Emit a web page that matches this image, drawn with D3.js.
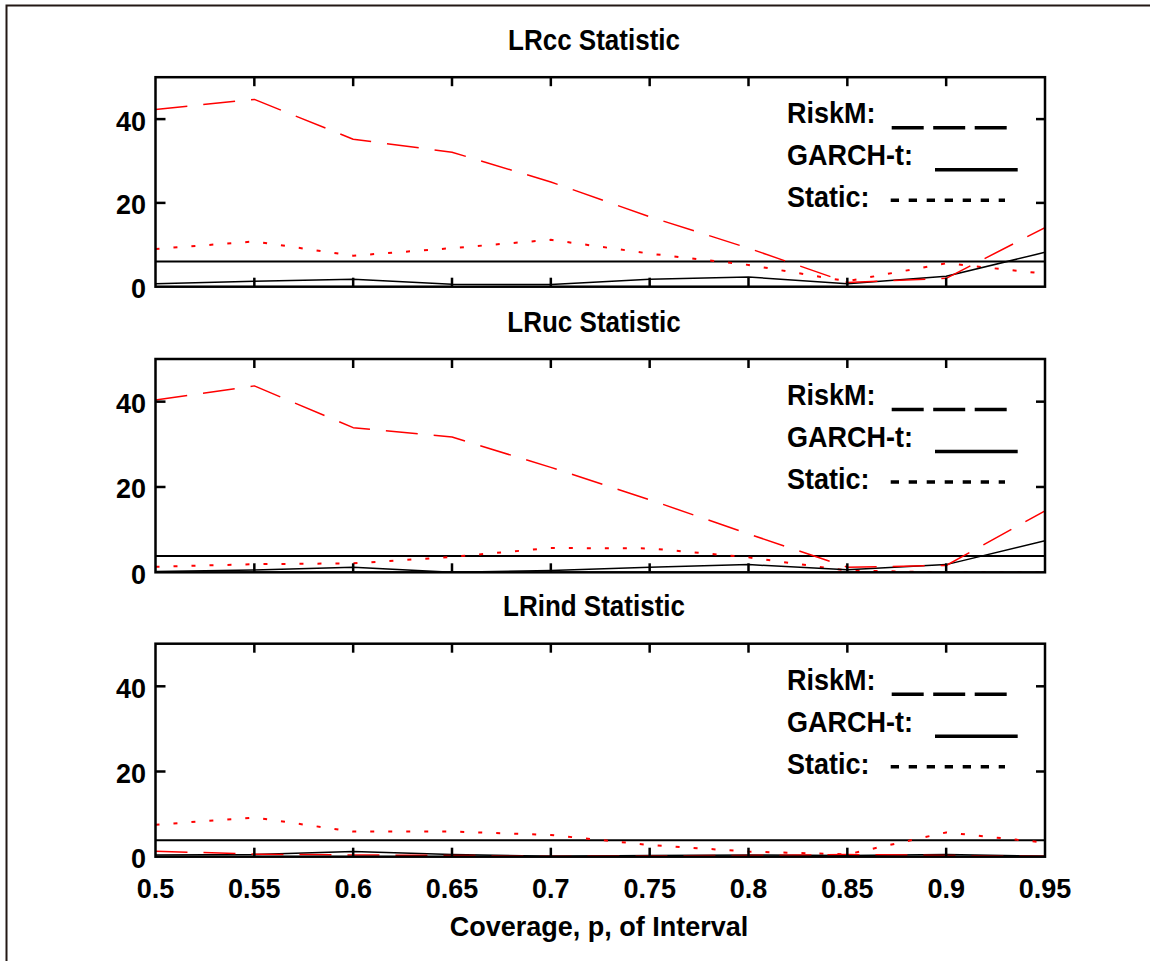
<!DOCTYPE html>
<html>
<head>
<meta charset="utf-8">
<script src="https://cdn.jsdelivr.net/npm/d3@7/dist/d3.min.js"></script>
<style>
  html, body { margin: 0; padding: 0; background: #fff; }
  svg { display: block; }
  text { font-family: "Liberation Sans", Arial, sans-serif; font-weight: bold; fill: #000; }
</style>
</head>
<body>
<svg id="chart" width="1150" height="961"></svg>
<script>
// ---------- data ----------
const coverage = [0.5, 0.55, 0.6, 0.65, 0.7, 0.75, 0.8, 0.85, 0.9, 0.95];

const lrccRiskM  = [42.3, 44.7, 35.2, 32.1, 25.0, 16.7, 9.2, 1.0, 2.0, 14.1];
const lrccGarch  = [0.7, 1.3, 1.8, 0.6, 0.5, 1.8, 2.3, 0.7, 2.5, 8.2];
const lrccStatic = [9.0, 10.8, 7.4, 9.2, 11.2, 7.9, 5.2, 1.3, 5.6, 3.1];

const lrucRiskM  = [40.4, 43.7, 33.9, 31.7, 24.6, 17.0, 9.0, 1.2, 1.6, 14.4];
const lrucGarch  = [0.2, 0.55, 1.2, 0.0, 0.4, 1.2, 1.8, 0.6, 1.8, 7.4];
const lrucStatic = [1.3, 1.9, 2.1, 3.6, 5.7, 5.6, 3.5, 0.4, 0.0, 0.0];

const lrindRiskM  = [1.3, 0.6, 0.4, 0.3, 0.1, 0.2, 0.3, 0.5, 0.3, 0.1];
const lrindGarch  = [0.4, 0.5, 1.2, 0.5, 0.1, 0.3, 0.4, 0.3, 0.5, 0.1];
const lrindStatic = [7.5, 9.2, 5.9, 5.9, 5.1, 2.75, 1.2, 0.55, 5.7, 3.3];

const criticalValues = [5.99, 3.84, 3.84];
const panelTitles = ["LRcc Statistic", "LRuc Statistic", "LRind Statistic"];
const legendLabels = ["RiskM:", "GARCH-t:", "Static:"];
const xTickValues = [0.5, 0.55, 0.6, 0.65, 0.7, 0.75, 0.8, 0.85, 0.9, 0.95];
const xTickLabels = ["0.5", "0.55", "0.6", "0.65", "0.7", "0.75", "0.8", "0.85", "0.9", "0.95"];
const yTickValues = [0, 20, 40];
const yTickLabels = ["0", "20", "40"];
const xAxisTitle = "Coverage, p, of Interval";

// ---------- layout ----------
const svg = d3.select("#chart");
const X0 = 155.5, X1 = 1045;
const panels = [
  { top: 77.2, bottom: 286.7, series: [lrccRiskM, lrccGarch, lrccStatic] },
  { top: 359,  bottom: 572.3, series: [lrucRiskM, lrucGarch, lrucStatic] },
  { top: 643.7, bottom: 856.7, series: [lrindRiskM, lrindGarch, lrindStatic] }
];

function tallText(parent, tx, ty, size, sy, anchor, str) {
  return parent.append("text")
    .attr("transform", `translate(${tx},${ty}) scale(1,${sy})`)
    .attr("text-anchor", anchor)
    .attr("font-size", size)
    .text(str);
}

// outer frame
svg.append("rect")
  .attr("x", 6.5).attr("y", 5.5).attr("width", 1200).attr("height", 1000)
  .attr("fill", "none").attr("stroke", "#231815").attr("stroke-width", 2);

const x = d3.scaleLinear().domain([0.5, 0.95]).range([X0, X1]);

const seriesStyle = [
  { color: "#ff0000", width: 1.5, dash: "32,16" },   // RiskM
  { color: "#000000", width: 1.5, dash: null },       // GARCH-t
  { color: "#ff0000", width: 2,   dash: "4,14" }      // Static
];

panels.forEach((p, i) => {
  const y = d3.scaleLinear().domain([0, 50]).range([p.bottom, p.top]);
  const g = svg.append("g");

  const clipId = "clip" + i;
  svg.append("clipPath").attr("id", clipId)
    .append("rect").attr("x", X0).attr("y", p.top).attr("width", X1 - X0).attr("height", p.bottom - p.top);

  const plot = g.append("g").attr("clip-path", `url(#${clipId})`);

  // critical value line
  plot.append("line")
    .attr("x1", X0).attr("x2", X1)
    .attr("y1", y(criticalValues[i])).attr("y2", y(criticalValues[i]))
    .attr("stroke", "#000").attr("stroke-width", 2);

  const line = d3.line().x((d, k) => x(coverage[k])).y(d => y(d));
  [2, 1, 0].forEach(s => {
    const st = seriesStyle[s];
    plot.append("path")
      .datum(p.series[s])
      .attr("d", line)
      .attr("fill", "none")
      .attr("stroke", st.color)
      .attr("stroke-width", st.width)
      .attr("stroke-dasharray", st.dash)
      .attr("stroke-linejoin", "round");
  });

  // frame
  g.append("rect")
    .attr("x", X0).attr("y", p.top).attr("width", X1 - X0).attr("height", p.bottom - p.top)
    .attr("fill", "none").attr("stroke", "#000").attr("stroke-width", 2.5);

  // x ticks (inward, top and bottom)
  xTickValues.slice(1, -1).forEach(v => {
    g.append("line").attr("x1", x(v)).attr("x2", x(v))
      .attr("y1", p.top).attr("y2", p.top + 9).attr("stroke", "#000").attr("stroke-width", 2.5);
    g.append("line").attr("x1", x(v)).attr("x2", x(v))
      .attr("y1", p.bottom).attr("y2", p.bottom - 9).attr("stroke", "#000").attr("stroke-width", 2.5);
  });
  // y ticks (inward, left and right)
  yTickValues.slice(1).forEach(v => {
    g.append("line").attr("x1", X0).attr("x2", X0 + 10)
      .attr("y1", y(v)).attr("y2", y(v)).attr("stroke", "#000").attr("stroke-width", 2.5);
    g.append("line").attr("x1", X1).attr("x2", X1 - 9)
      .attr("y1", y(v)).attr("y2", y(v)).attr("stroke", "#000").attr("stroke-width", 2.5);
  });
  // y tick labels
  yTickValues.forEach((v, k) => {
    tallText(g, 146, y(v) + 11.5, 27, 1.05, "end", yTickLabels[k]);
  });

  // title
  tallText(g, 594, p.top - 27.5, 26, 1.1, "middle", panelTitles[i]);

  // legend
  const lx = 787, lb = p.top + 46;
  legendLabels.forEach((lab, k) => {
    tallText(g, lx, lb + k * 42, 27, 1.1, "start", lab);
  });
  g.append("line").attr("x1", 891.7).attr("x2", 1006.7)
    .attr("y1", lb + 4.5).attr("y2", lb + 4.5)
    .attr("stroke", "#000").attr("stroke-width", 3.5).attr("stroke-dasharray", "32,9.5");
  g.append("line").attr("x1", 935).attr("x2", 1017.7)
    .attr("y1", lb + 42 + 4.5).attr("y2", lb + 42 + 4.5)
    .attr("stroke", "#000").attr("stroke-width", 3.5);
  g.append("line").attr("x1", 890.7).attr("x2", 1005)
    .attr("y1", lb + 84 - 7).attr("y2", lb + 84 - 7)
    .attr("stroke", "#000").attr("stroke-width", 3.5).attr("stroke-dasharray", "8.3,9.7");

  // x tick labels on bottom panel only
  if (i === panels.length - 1) {
    xTickValues.forEach((v, k) => {
      tallText(g, x(v), p.bottom + 41, 27, 1.05, "middle", xTickLabels[k]);
    });
    tallText(g, 599, 936, 27, 1.0, "middle", xAxisTitle);
  }
});
</script>
</body>
</html>
